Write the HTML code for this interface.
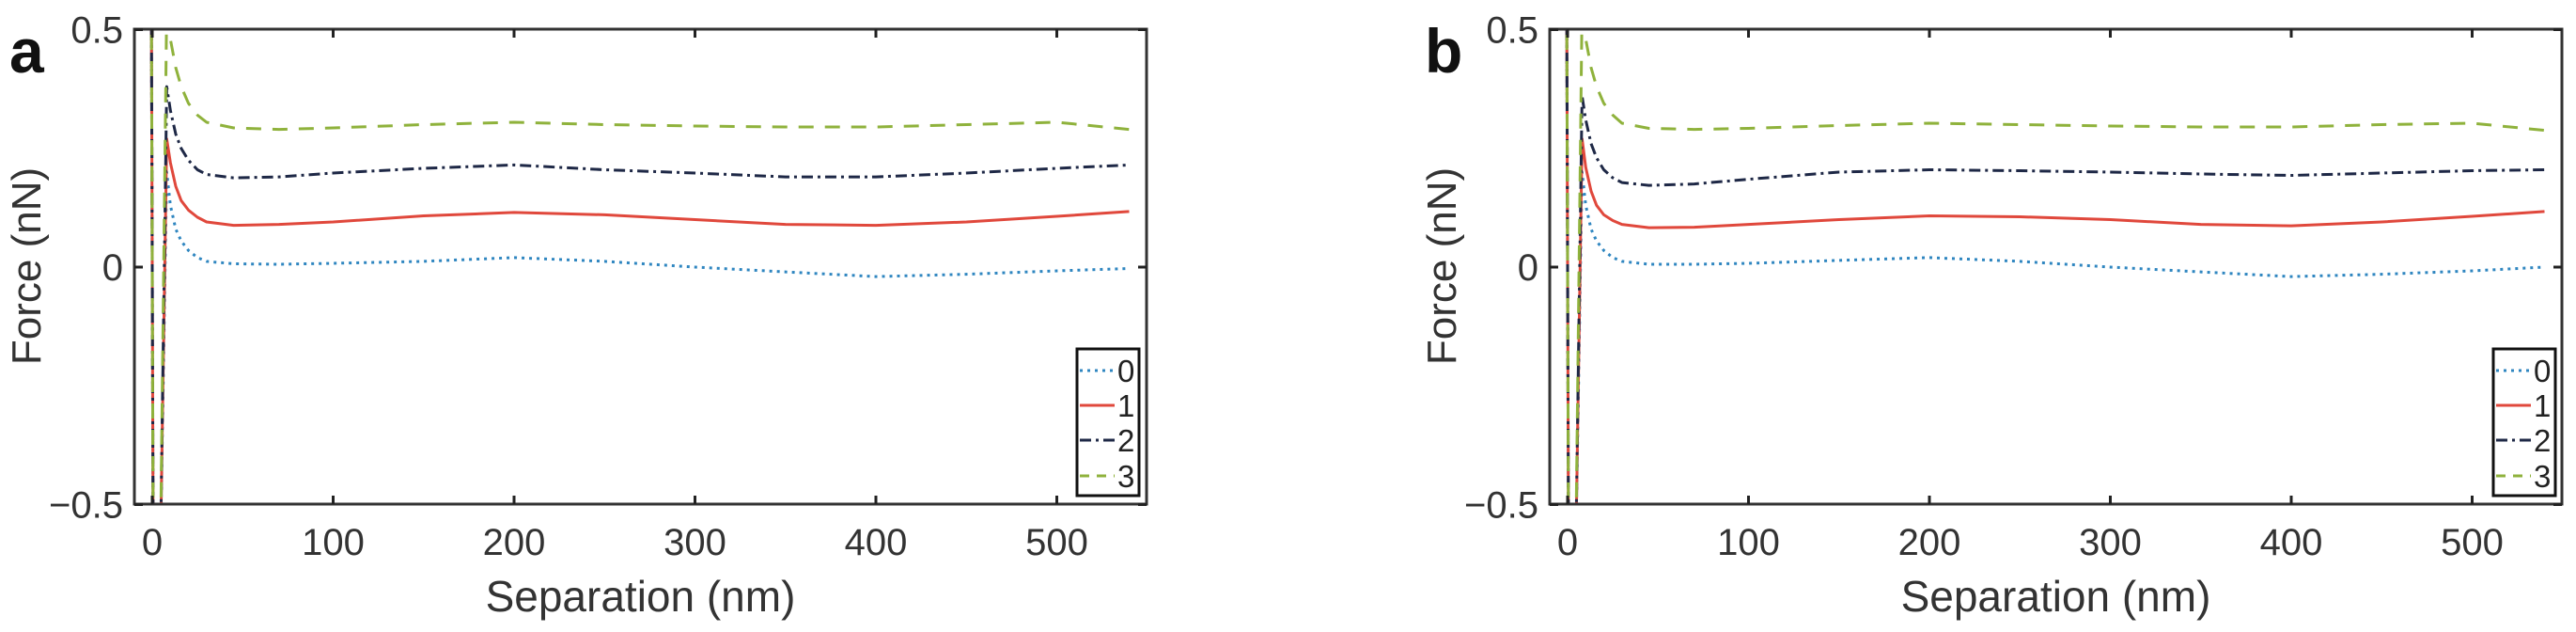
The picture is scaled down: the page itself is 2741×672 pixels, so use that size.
<!DOCTYPE html>
<html><head><meta charset="utf-8"><style>
html,body{margin:0;padding:0;background:#fff;}
svg{display:block;font-family:"Liberation Sans",Arial,sans-serif;}
</style></head><body>
<svg id="fig" width="2741" height="672" viewBox="0 0 2741 672" xmlns="http://www.w3.org/2000/svg"></svg>
<script>
const xs = [-0.5, 0.5, 4.5, 8, 10, 13, 16, 20, 25, 30, 45, 70, 100, 150, 200, 250, 300, 350, 400, 450, 500, 540];
const seriesNames = ['0', '1', '2', '3'];
const aBlue  = [0.6,-0.6,-0.6,0.20,0.13,0.08,0.055,0.035,0.02,0.012,0.007,0.006,0.008,0.012,0.020,0.012,0.000,-0.010,-0.020,-0.015,-0.008,-0.003];
const aRed   = [0.6,-0.6,-0.6,0.27,0.22,0.17,0.14,0.12,0.105,0.095,0.088,0.090,0.095,0.108,0.115,0.110,0.100,0.090,0.088,0.095,0.107,0.117];
const aNavy  = [0.6,-0.6,-0.6,0.38,0.33,0.28,0.25,0.225,0.205,0.195,0.188,0.190,0.198,0.208,0.215,0.205,0.198,0.190,0.190,0.198,0.208,0.215];
const aGreen = [0.6,-0.6,-0.6,0.55,0.48,0.42,0.38,0.345,0.32,0.305,0.293,0.290,0.293,0.300,0.305,0.300,0.297,0.295,0.295,0.300,0.305,0.290];
const bBlue  = [0.6,-0.6,-0.6,0.20,0.13,0.08,0.055,0.035,0.02,0.012,0.006,0.006,0.008,0.014,0.020,0.012,0.000,-0.010,-0.020,-0.015,-0.008,0.000];
const bRed   = [0.6,-0.6,-0.6,0.27,0.21,0.16,0.13,0.11,0.098,0.090,0.083,0.084,0.090,0.100,0.108,0.106,0.100,0.090,0.087,0.095,0.107,0.117];
const bNavy  = [0.6,-0.6,-0.6,0.36,0.31,0.26,0.23,0.205,0.188,0.178,0.172,0.175,0.185,0.200,0.205,0.203,0.200,0.196,0.193,0.198,0.203,0.205];
const bGreen = [0.6,-0.6,-0.6,0.55,0.48,0.42,0.38,0.345,0.32,0.303,0.292,0.290,0.292,0.298,0.303,0.300,0.297,0.295,0.295,0.300,0.303,0.288];
const xTicks = [0, 100, 200, 300, 400, 500];
const yTicks = [-0.5, 0, 0.5];
const yTickLabels = ['\u22120.5', '0', '0.5'];

const NS = 'http://www.w3.org/2000/svg';
const svg = document.getElementById('fig');
const colors = ['#2f86c0', '#e0483c', '#1e2846', '#8fb23c'];
const dashes = ['3 5', '', '12 5 3 5', '16 12'];

function mk(tag, attrs, parent) {
  const e = document.createElementNS(NS, tag);
  for (const k in attrs) e.setAttribute(k, attrs[k]);
  parent.appendChild(e);
  return e;
}

function drawPanel(ox, label, series, pid) {
  const L = 143 + ox, R = 1220 + ox, T = 31, B = 536;
  const x0 = 162 + ox, pxPer = 1.925;
  const sx = v => x0 + v * pxPer;
  const sy = v => 284 - v * 505;
  const g = mk('g', {}, svg);
  
  
  const cp = mk('clipPath', {id: 'clip' + pid}, g);
  mk('rect', {x: L, y: T, width: R - L, height: B - T}, cp);
  const lg = mk('g', {'clip-path': 'url(#clip' + pid + ')'}, g);
  series.forEach((vals, i) => {
    const pts = vals.map((v, j) => sx(xs[j]).toFixed(1) + ',' + sy(v).toFixed(1)).join(' ');
    const pl = mk('polyline', {points: pts, fill: 'none', stroke: colors[i], 'stroke-width': 3, 'stroke-dasharray': dashes[i], 'stroke-linejoin': 'round'}, lg);
    
    
  });
  const fr = mk('rect', {x: L, y: T, width: R - L, height: B - T, fill: 'none', stroke: '#333', 'stroke-width': 3}, g);
  
  
  xTicks.forEach(t => {
    const x = sx(t);
    mk('line', {x1: x, y1: B, x2: x, y2: B - 9, stroke: '#222', 'stroke-width': 3}, g);
    mk('line', {x1: x, y1: T, x2: x, y2: T + 9, stroke: '#222', 'stroke-width': 3}, g);
    const tx = mk('text', {x: x, y: 590, 'font-size': 40, 'text-anchor': 'middle', fill: '#333'}, g);
    tx.textContent = String(t);
    
    
  });
  yTicks.forEach((t, i) => {
    const y = sy(t);
    mk('line', {x1: L, y1: y, x2: L + 9, y2: y, stroke: '#222', 'stroke-width': 3}, g);
    mk('line', {x1: R, y1: y, x2: R - 9, y2: y, stroke: '#222', 'stroke-width': 3}, g);
    const tx = mk('text', {x: L - 12, y: y + 14, 'font-size': 40, 'text-anchor': 'end', fill: '#333'}, g);
    tx.textContent = yTickLabels[i];
    
    
  });
  const xl = mk('text', {x: (L + R) / 2, y: 650, 'font-size': 46, 'text-anchor': 'middle', fill: '#333'}, g);
  xl.textContent = 'Separation (nm)';
  
  
  const yl = mk('text', {x: 0, y: 0, 'font-size': 44, 'text-anchor': 'middle', fill: '#333', transform: 'translate(' + (43 + ox) + ',283) rotate(-90)'}, g);
  yl.textContent = 'Force (nN)';
  
  
  const pl = mk('text', {x: 10 + ox, y: 77, 'font-size': 66, 'font-weight': 'bold', fill: '#111'}, g);
  pl.textContent = label;
  
  
  const lgx = 1146 + ox + (pid === 1 ? 1 : 0);
  const leg = mk('g', {}, g);
  
  
  mk('rect', {x: lgx, y: 371, width: 66, height: 156, fill: '#fff', stroke: '#111', 'stroke-width': 3}, leg);
  const ly = [394, 431, 468, 506];
  seriesNames.forEach((n, i) => {
    const e = mk('g', {}, leg);
    
    
    mk('line', {x1: lgx + 3, y1: ly[i], x2: lgx + 40, y2: ly[i], stroke: colors[i], 'stroke-width': 3, 'stroke-dasharray': dashes[i] === '16 12' ? '10 8' : dashes[i]}, e);
    const t = mk('text', {x: lgx + 43, y: ly[i] + 12, 'font-size': 33, fill: '#222'}, e);
    t.textContent = n;
  });
}

drawPanel(0, 'a', [aBlue, aRed, aNavy, aGreen], 0);
drawPanel(1506, 'b', [bBlue, bRed, bNavy, bGreen], 1);
</script>
</body></html>
